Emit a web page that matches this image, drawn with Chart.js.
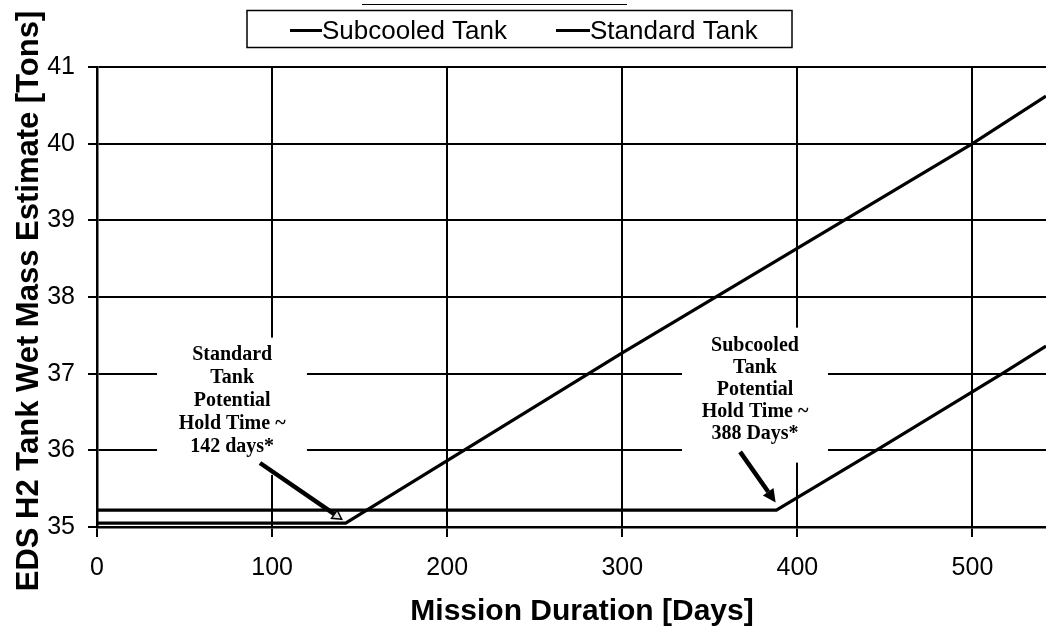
<!DOCTYPE html>
<html><head><meta charset="utf-8">
<script src="https://cdn.jsdelivr.net/npm/chart.js@4.4.1/dist/chart.umd.min.js"></script>
<style>html,body{margin:0;padding:0;background:#fff;} #wrap{width:1046px;height:631px;}</style>
</head><body><div id="wrap"><canvas id="c" width="1046" height="631"></canvas></div>
<script>
// ---- data ----
const seriesNames = ['Subcooled Tank', 'Standard Tank'];
const subcooledDays = [0, 388, 445, 517, 542];
const subcooledMass = [35.22, 35.22, 36.0, 37.0, 37.36];
const standardDays = [0, 142, 300, 500, 542];
const standardMass = [35.05, 35.05, 37.27, 40.0, 40.62];
const xTicks = [0, 100, 200, 300, 400, 500];
const yTicks = [35, 36, 37, 38, 39, 40, 41];
const xTitle = 'Mission Duration [Days]';
const yTitle = 'EDS H2 Tank Wet Mass Estimate [Tons]';
const noteStandard = ['Standard', 'Tank', 'Potential', 'Hold Time ~', '142 days*'];
const noteSubcooled = ['Subcooled', 'Tank', 'Potential', 'Hold Time ~', '388 Days*'];

// annotation placement (data space)
const notes = [
  {lines: noteStandard, cx: 77.2, top: 37.245, step: 23, box: [34.3, 119.9, 37.47, 35.68], arrow: [93.1, 35.835, 139.8, 35.10], open: true},
  {lines: noteSubcooled, cx: 375.8, top: 37.36, step: 22, box: [334.1, 417.5, 37.6, 35.84], arrow: [367.3, 35.98, 387.6, 35.32], open: false}
];

const toXY = (xs, ys) => xs.map((x, i) => ({x, y: ys[i]}));

const SANS = '"Liberation Sans", Arial, sans-serif';
const SERIF = '"Liberation Serif", "Times New Roman", serif';

const boxesPlugin = {
  id: 'boxes',
  beforeDatasetsDraw(chart) {
    const {ctx, scales: {x, y}} = chart;
    ctx.save();
    ctx.fillStyle = '#fff';
    notes.forEach(n => {
      const x0 = x.getPixelForValue(n.box[0]), x1 = x.getPixelForValue(n.box[1]);
      const y0 = y.getPixelForValue(n.box[2]), y1 = y.getPixelForValue(n.box[3]);
      ctx.fillRect(x0, y0, x1 - x0, y1 - y0);
    });
    ctx.restore();
  },
  afterDatasetsDraw(chart) {
    const {ctx, scales: {x, y}} = chart;
    ctx.save();
    ctx.fillStyle = '#000';
    ctx.strokeStyle = '#000';
    ctx.font = 'bold 20px ' + SERIF;
    ctx.textAlign = 'center';
    ctx.textBaseline = 'middle';
    notes.forEach(n => {
      const cx = x.getPixelForValue(n.cx);
      const ty = y.getPixelForValue(n.top);
      n.lines.forEach((t, i) => ctx.fillText(t, cx, ty + i * n.step));
      // arrow
      const ax = x.getPixelForValue(n.arrow[0]), ay = y.getPixelForValue(n.arrow[1]);
      const bx = x.getPixelForValue(n.arrow[2]), by = y.getPixelForValue(n.arrow[3]);
      const ang = Math.atan2(by - ay, bx - ax);
      const hl = n.open ? 9 : 13, hw = n.open ? 5 : 6.5;
      const lx = bx - Math.cos(ang) * hl, ly = by - Math.sin(ang) * hl;
      ctx.lineWidth = 4.5;
      ctx.lineCap = 'butt';
      ctx.beginPath(); ctx.moveTo(ax, ay); ctx.lineTo(lx, ly); ctx.stroke();
      ctx.beginPath();
      ctx.moveTo(bx, by);
      ctx.lineTo(lx - Math.sin(ang) * hw, ly + Math.cos(ang) * hw);
      ctx.lineTo(lx + Math.sin(ang) * hw, ly - Math.cos(ang) * hw);
      ctx.closePath();
      if (n.open) { ctx.lineWidth = 1.5; ctx.fillStyle = '#ddd'; ctx.fill(); ctx.stroke(); ctx.fillStyle = '#000'; }
      else ctx.fill();
    });
    ctx.restore();
  },
  afterDraw(chart) {
    const {ctx} = chart;
    ctx.save();
    ctx.fillStyle = '#000';
    ctx.strokeStyle = '#000';
    // legend
    ctx.lineWidth = 1.5;
    ctx.strokeRect(247, 10.5, 545, 37);
    ctx.font = '26px ' + SANS;
    ctx.textAlign = 'left';
    ctx.textBaseline = 'alphabetic';
    const items = [{lx: 290, tx: 322}, {lx: 556, tx: 590}];
    chart.data.datasets.forEach((ds, i) => {
      ctx.lineWidth = 3;
      ctx.beginPath(); ctx.moveTo(items[i].lx, 30.5); ctx.lineTo(items[i].tx, 30.5); ctx.stroke();
      ctx.fillText(ds.label, items[i].tx, 39);
    });
    // faint title underline remnant at top
    ctx.lineWidth = 1;
    ctx.beginPath(); ctx.moveTo(362, 4.5); ctx.lineTo(627, 4.5); ctx.stroke();
    // x title
    ctx.font = 'bold 30px ' + SANS;
    ctx.textAlign = 'center';
    ctx.fillText(xTitle, 582, 620);
    // y title
    ctx.translate(38, 301);
    ctx.rotate(-Math.PI / 2);
    ctx.font = 'bold 31px ' + SANS;
    ctx.fillText(yTitle, 0, 0);
    ctx.restore();
  }
};

new Chart(document.getElementById('c'), {
  type: 'line',
  data: {
    datasets: [
      {label: seriesNames[0], data: toXY(subcooledDays, subcooledMass), borderColor: '#000', borderWidth: 3.2, pointRadius: 0, tension: 0, fill: false},
      {label: seriesNames[1], data: toXY(standardDays, standardMass), borderColor: '#000', borderWidth: 3.2, pointRadius: 0, tension: 0, fill: false}
    ]
  },
  options: {
    responsive: false,
    animation: false,
    devicePixelRatio: 1,
    layout: {padding: {top: 67, right: 0, bottom: 0, left: 0}},
    plugins: {legend: {display: false}, title: {display: false}, tooltip: {enabled: false}},
    scales: {
      x: {
        type: 'linear', min: 0, max: 542,
        afterBuildTicks: s => { s.ticks = xTicks.map(v => ({value: v})); },
        afterFit: s => { s.height = 104; },
        grid: {color: '#000', lineWidth: 2, tickLength: 10, drawTicks: true},
        border: {display: true, color: '#000', width: 2.5},
        ticks: {color: '#000', font: {size: 25, family: SANS}, padding: 16, maxRotation: 0, includeBounds: false}
      },
      y: {
        type: 'linear', min: 35, max: 41,
        afterBuildTicks: s => { s.ticks = yTicks.map(v => ({value: v})); },
        afterFit: s => { s.width = 97; },
        grid: {color: '#000', lineWidth: 2, tickLength: 9, drawTicks: true},
        border: {display: true, color: '#000', width: 2.5},
        ticks: {color: '#000', font: {size: 25, family: SANS}, padding: 13}
      }
    }
  },
  plugins: [boxesPlugin]
});
</script>
</body></html>
